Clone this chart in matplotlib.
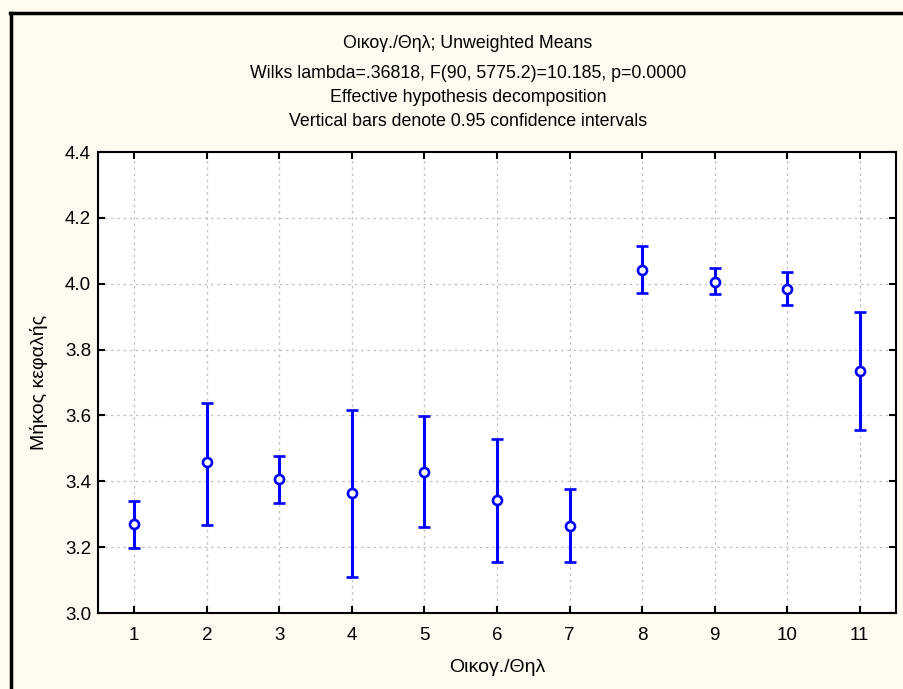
import matplotlib.pyplot as plt
from matplotlib.lines import Line2D

# Μέσες τιμές μήκους κεφαλής ανά οικογένεια με διαστήματα εμπιστοσύνης 95%
families = [1, 2, 3, 4, 5, 6, 7, 8, 9, 10, 11]
means = [3.271, 3.458, 3.406, 3.365, 3.429, 3.342, 3.264, 4.042, 4.006, 3.985, 3.735]
ci_low = [3.198, 3.267, 3.334, 3.109, 3.262, 3.155, 3.155, 3.971, 3.970, 3.935, 3.556]
ci_high = [3.339, 3.639, 3.478, 3.617, 3.598, 3.528, 3.376, 4.115, 4.047, 4.035, 3.915]

title_lines = [
    "Οικογ./Θηλ; Unweighted Means",
    "Wilks lambda=.36818, F(90, 5775.2)=10.185, p=0.0000",
    "Effective hypothesis decomposition",
    "Vertical bars denote 0.95 confidence intervals",
]

plt.rcParams['font.family'] = ['Liberation Sans', 'DejaVu Sans']

fig = plt.figure(figsize=(9.04, 6.89), dpi=100)
fig.patch.set_facecolor('#fefaef')

ax = fig.add_axes([98 / 904, 76 / 689, 798 / 904, 461 / 689])
ax.set_facecolor('white')

err_lo = [m - lo for m, lo in zip(means, ci_low)]
err_hi = [hi - m for m, hi in zip(means, ci_high)]
ax.errorbar(families, means, yerr=[err_lo, err_hi], fmt='o', color='#0000ff',
            ecolor='#0000ff', elinewidth=2.2, capsize=4, capthick=2.2,
            markersize=6.5, markerfacecolor='white', markeredgecolor='#0000ff',
            markeredgewidth=1.9, zorder=3)

ax.set_xlim(0.5, 11.5)
ax.set_ylim(3.0, 4.4)
ax.set_xticks(families)
ax.set_yticks([3.0, 3.2, 3.4, 3.6, 3.8, 4.0, 4.2, 4.4])
ax.set_yticklabels(['3.0', '3.2', '3.4', '3.6', '3.8', '4.0', '4.2', '4.4'])
ax.tick_params(direction='in', length=5, width=1.5, top=True, right=True,
               labelsize=13.5, colors='black')
ax.tick_params(axis='x', pad=10)
ax.tick_params(axis='y', pad=5)
ax.grid(True, color='#c0c0c0', linestyle=(0, (2, 3)), linewidth=0.9)
for s in ax.spines.values():
    s.set_linewidth(1.5)
    s.set_color('black')

ax.set_xlabel("Οικογ./Θηλ", fontsize=14, labelpad=11)
ax.set_ylabel("Μήκος κεφαλής", fontsize=14, labelpad=12)

# Τίτλος σε τέσσερις γραμμές
for y, line in zip([43, 73, 98, 122], title_lines):
    fig.text(468 / 904, 1 - y / 689, line, ha='center', va='center', fontsize=12.8)

# Μαύρο πλαίσιο γύρω από το γράφημα
fig.add_artist(Line2D([10 / 904, 1.0], [1 - 13 / 689, 1 - 13 / 689],
                      color='black', linewidth=2.5, transform=fig.transFigure))
fig.add_artist(Line2D([10.5 / 904, 10.5 / 904], [0.0, 1 - 13 / 689],
                      color='black', linewidth=2.5, transform=fig.transFigure))

fig.savefig('out.png', dpi=100, facecolor=fig.get_facecolor())
